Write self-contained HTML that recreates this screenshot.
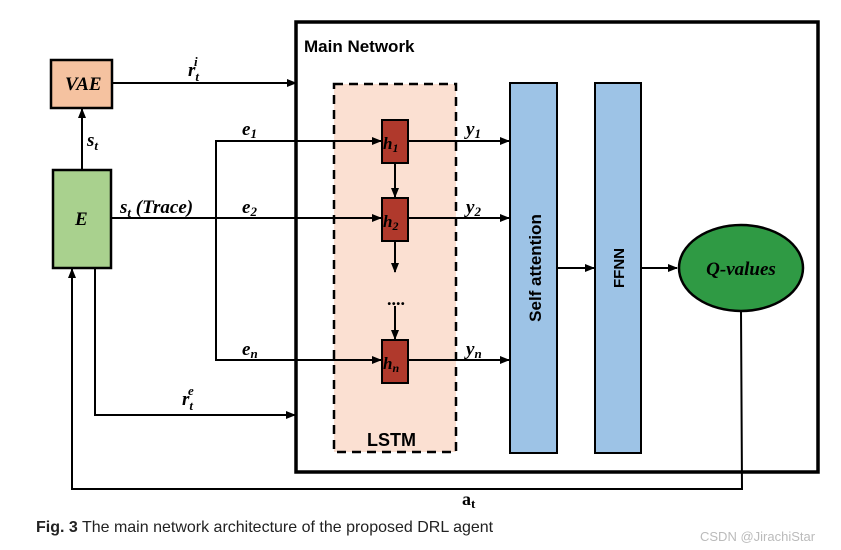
<!DOCTYPE html>
<html><head><style>
body{margin:0;background:#fff;width:841px;height:550px;overflow:hidden}
svg{position:absolute;left:0;top:0}
.s{font-family:"Liberation Serif",serif;font-style:italic;font-size:19px}
.b{font-family:"Liberation Sans",sans-serif;font-weight:bold}
</style></head><body>
<svg width="841" height="550" viewBox="0 0 841 550">
<defs><marker id="a" markerWidth="10" markerHeight="10" refX="9" refY="5" orient="auto" markerUnits="userSpaceOnUse"><path d="M0,1 L10,5 L0,9z" fill="#000"/></marker></defs>
<g stroke="#000" stroke-width="2" fill="none">
<rect x="296" y="22" width="522" height="450" stroke-width="3.5"/>
<rect x="334" y="84" width="122" height="368" fill="#fbe0d2" stroke-dasharray="9,6" stroke-width="2.5"/>
<rect x="51" y="60" width="61" height="48" fill="#f5c2a0" stroke-width="2.5"/>
<rect x="53" y="170" width="58" height="98" fill="#a9d18e" stroke-width="2.5"/>
<line x1="112" y1="83" x2="296" y2="83" marker-end="url(#a)"/>
<line x1="82" y1="170" x2="82" y2="109" marker-end="url(#a)"/>
<line x1="111" y1="218" x2="381" y2="218" marker-end="url(#a)"/>
<polyline points="381,141 216,141 216,360 381,360" marker-end="url(#a)"/>
<line x1="216" y1="141" x2="381" y2="141" marker-end="url(#a)"/>
<line x1="395" y1="163" x2="395" y2="197" marker-end="url(#a)"/>
<line x1="395" y1="241" x2="395" y2="272" marker-end="url(#a)"/>
<line x1="395" y1="306" x2="395" y2="339" marker-end="url(#a)"/>
<line x1="408" y1="141" x2="509" y2="141" marker-end="url(#a)"/>
<line x1="408" y1="218" x2="509" y2="218" marker-end="url(#a)"/>
<line x1="408" y1="360" x2="509" y2="360" marker-end="url(#a)"/>
<rect x="510" y="83" width="47" height="370" fill="#9dc3e6"/>
<rect x="595" y="83" width="46" height="370" fill="#9dc3e6"/>
<line x1="557" y1="268" x2="594" y2="268" marker-end="url(#a)"/>
<line x1="641" y1="268" x2="677" y2="268" marker-end="url(#a)"/>
<polyline points="741,311 742,489 72,489 72,269" marker-end="url(#a)"/>
<polyline points="95,268 95,415 295,415" marker-end="url(#a)"/>
<ellipse cx="741" cy="268" rx="62" ry="43" fill="#2f9a44" stroke-width="2.5"/>
<rect x="382" y="120" width="26" height="43" fill="#b0392c"/>
<rect x="382" y="198" width="26" height="43" fill="#b0392c"/>
<rect x="382" y="340" width="26" height="43" fill="#b0392c"/>
</g>
<text x="387" y="305" font-size="18" font-weight="bold">....</text>
<text x="304" y="52" class="b" font-size="17">Main Network</text>
<text x="367" y="446" class="b" font-size="18">LSTM</text>
<text x="541" y="268" class="b" font-size="17" transform="rotate(-90 541 268)" text-anchor="middle">Self attention</text>
<text x="624" y="268" class="b" font-size="15" transform="rotate(-90 624 268)" text-anchor="middle">FFNN</text>
<g class="s" font-weight="bold">
<text x="65" y="90">VAE</text>
<text x="75" y="225">E</text>
<text x="188" y="76">r<tspan font-size="13" dy="5">t</tspan><tspan font-size="13" dx="-5" dy="-15">i</tspan></text>
<text x="87" y="146">s<tspan font-size="13" dy="4">t</tspan></text>
<text x="120" y="213">s<tspan font-size="13" dy="4">t</tspan><tspan dy="-4"> (Trace)</tspan></text>
<text x="242" y="135">e<tspan font-size="13" dy="3">1</tspan></text>
<text x="242" y="213">e<tspan font-size="13" dy="3">2</tspan></text>
<text x="242" y="355">e<tspan font-size="13" dy="3">n</tspan></text>
<text x="466" y="135">y<tspan font-size="13" dy="3">1</tspan></text>
<text x="466" y="213">y<tspan font-size="13" dy="3">2</tspan></text>
<text x="466" y="355">y<tspan font-size="13" dy="3">n</tspan></text>
<text x="383" y="149" font-size="17">h<tspan font-size="12" dy="3">1</tspan></text>
<text x="383" y="227" font-size="17">h<tspan font-size="12" dy="3">2</tspan></text>
<text x="383" y="369" font-size="17">h<tspan font-size="12" dy="3">n</tspan></text>
<text x="182" y="405">r<tspan font-size="13" dy="5">t</tspan><tspan font-size="13" dx="-5" dy="-15">e</tspan></text>
<text x="741" y="275" text-anchor="middle">Q-values</text>
</g>
<text x="462" y="505" font-family="Liberation Serif" font-weight="bold" font-size="18">a<tspan font-size="13" dy="3">t</tspan></text>
<text x="36" y="532" font-family="Liberation Sans" font-size="16" fill="#222"><tspan font-weight="bold">Fig. 3</tspan>  The main network architecture of the proposed DRL agent</text>
<text x="700" y="541" font-family="Liberation Sans" font-size="13" fill="#bbb">CSDN @JirachiStar</text>
</svg>
</body></html>
